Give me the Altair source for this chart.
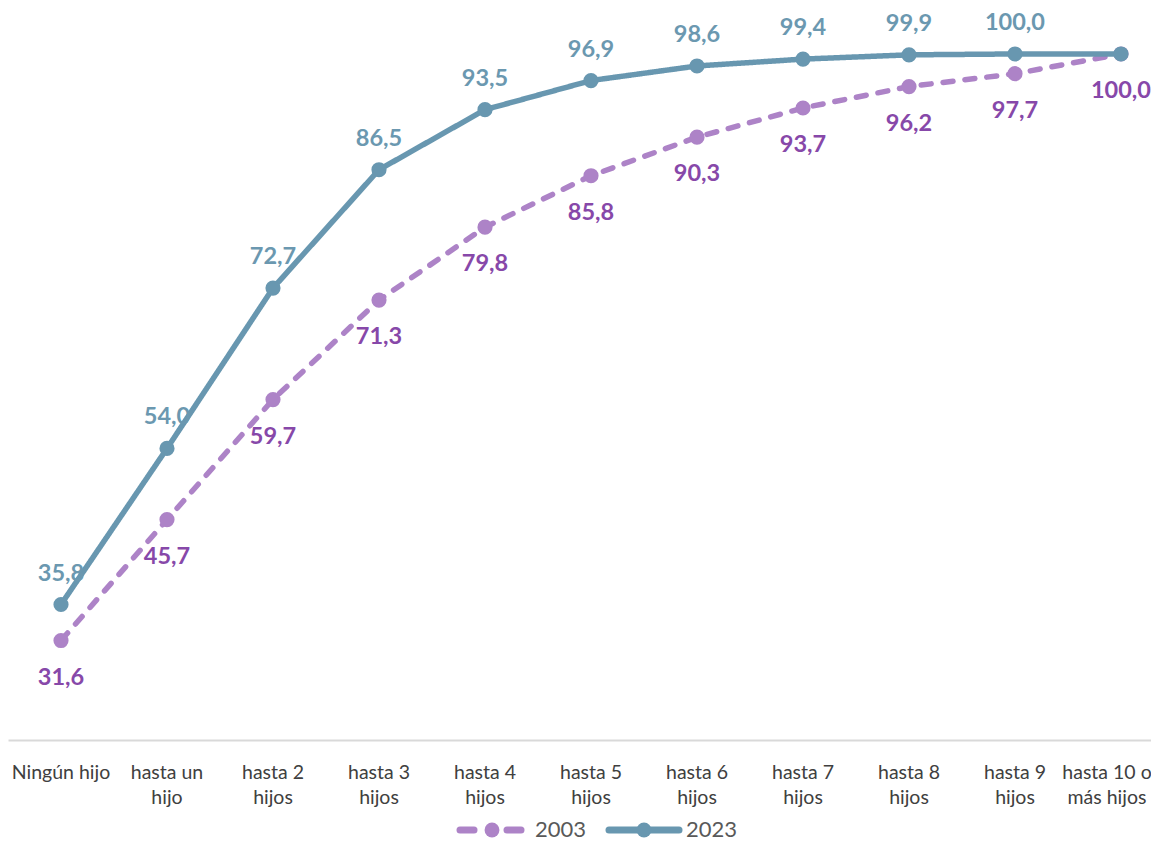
import altair as alt
import pandas as pd

categories = ["Ningún hijo", "hasta un\nhijo", "hasta 2\nhijos", "hasta 3\nhijos",
              "hasta 4\nhijos", "hasta 5\nhijos", "hasta 6\nhijos", "hasta 7\nhijos",
              "hasta 8\nhijos", "hasta 9\nhijos", "hasta 10 o\nmás hijos"]
values_2003 = [31.6, 45.7, 59.7, 71.3, 79.8, 85.8, 90.3, 93.7, 96.2, 97.7, 100.0]
values_2023 = [35.8, 54.0, 72.7, 86.5, 93.5, 96.9, 98.6, 99.4, 99.9, 100.0, 100.0]
series_names = ["2003", "2023"]
line_colors = ["#AD83C7", "#6897B0"]
text_colors = ["#8748A9", "#6B98B0"]

FONT = "Lato"
W, H = 1143, 732

def frame(vals):
    return pd.DataFrame({"cat": categories, "value": vals, "idx": list(range(len(vals)))})

last_cat = categories[-1].replace("\n", "\\n")
x_enc = alt.X("cat:N", sort=categories,
              scale=alt.Scale(type="band", range=[0, 1166], paddingInner=0, paddingOuter=0),
              axis=alt.Axis(title=None, ticks=False, domainColor="#D9D9D9", domainWidth=2,
                            labelAngle=0, labelFont=FONT, labelFontSize=19.5, labelColor="#404040",
                            labelPadding=23, labelLineHeight=25, labelOverlap=False,
                            labelOffset={"condition": {"test": f"datum.value == '{last_cat}'", "value": -14},
                                         "value": 0},
                            labelExpr="split(datum.label, '\\n')", grid=False))
y_enc = alt.Y("value:Q", scale=alt.Scale(domain=[20, 105.36], nice=False, zero=False), axis=None)

layers = []
dashes = [[10, 12], [1, 0]]
offsets = [37, -31]
for k, vals in enumerate([values_2003, values_2023]):
    base = alt.Chart(frame(vals)).encode(x=x_enc, y=y_enc)
    line = base.mark_line(color=line_colors[k], strokeWidth=5.5, strokeDash=dashes[k],
                          strokeCap="round" if k == 0 else "butt")
    pts = base.mark_circle(color=line_colors[k], size=230, opacity=1)
    txt = base.transform_calculate(
        lab="replace(format(datum.value, '.1f'), '.', ',')"
    ).mark_text(font=FONT, fontWeight="bold", fontSize=23.5, color=text_colors[k],
                dy=offsets[k], baseline="middle", align="center").encode(text="lab:N")
    if k == 1:
        txt = txt.transform_filter("datum.idx < 10")
    layers += [line, pts, txt]

# Legend (drawn below the plot area)
leg_y = 822
legend_layers = []
dummy = pd.DataFrame({"s": [series_names[0]]})
# 2003
for x1, x2 in [(452, 466), (499, 513)]:
    legend_layers.append(alt.Chart(dummy).mark_rule(color=line_colors[0], strokeWidth=7, strokeCap="round")
                         .encode(x=alt.value(x1), x2=alt.value(x2), y=alt.value(leg_y)))
legend_layers.append(alt.Chart(dummy).mark_circle(color=line_colors[0], size=220, opacity=1)
                     .encode(x=alt.value(484), y=alt.value(leg_y)))
legend_layers.append(alt.Chart(dummy).mark_text(font=FONT, fontSize=22, color="#595959", align="left",
                                                baseline="middle")
                     .encode(x=alt.value(527), y=alt.value(leg_y), text=alt.value(series_names[0])))
# 2023
legend_layers.append(alt.Chart(dummy).mark_rule(color=line_colors[1], strokeWidth=7, strokeCap="round")
                     .encode(x=alt.value(601), x2=alt.value(671), y=alt.value(leg_y)))
legend_layers.append(alt.Chart(dummy).mark_circle(color=line_colors[1], size=220, opacity=1)
                     .encode(x=alt.value(636), y=alt.value(leg_y)))
legend_layers.append(alt.Chart(dummy).mark_text(font=FONT, fontSize=22, color="#595959", align="left",
                                                baseline="middle")
                     .encode(x=alt.value(678), y=alt.value(leg_y), text=alt.value(series_names[1])))

chart = alt.layer(*layers, *legend_layers).properties(
    width=W, height=H,
    autosize=alt.AutoSizeParams(type="none"),
    padding={"left": 0, "top": 0, "right": 0, "bottom": 105},
).configure(background="white", view=alt.ViewConfig(stroke=None))

chart.save("out.html", embed_options={"renderer": "svg", "actions": False})
